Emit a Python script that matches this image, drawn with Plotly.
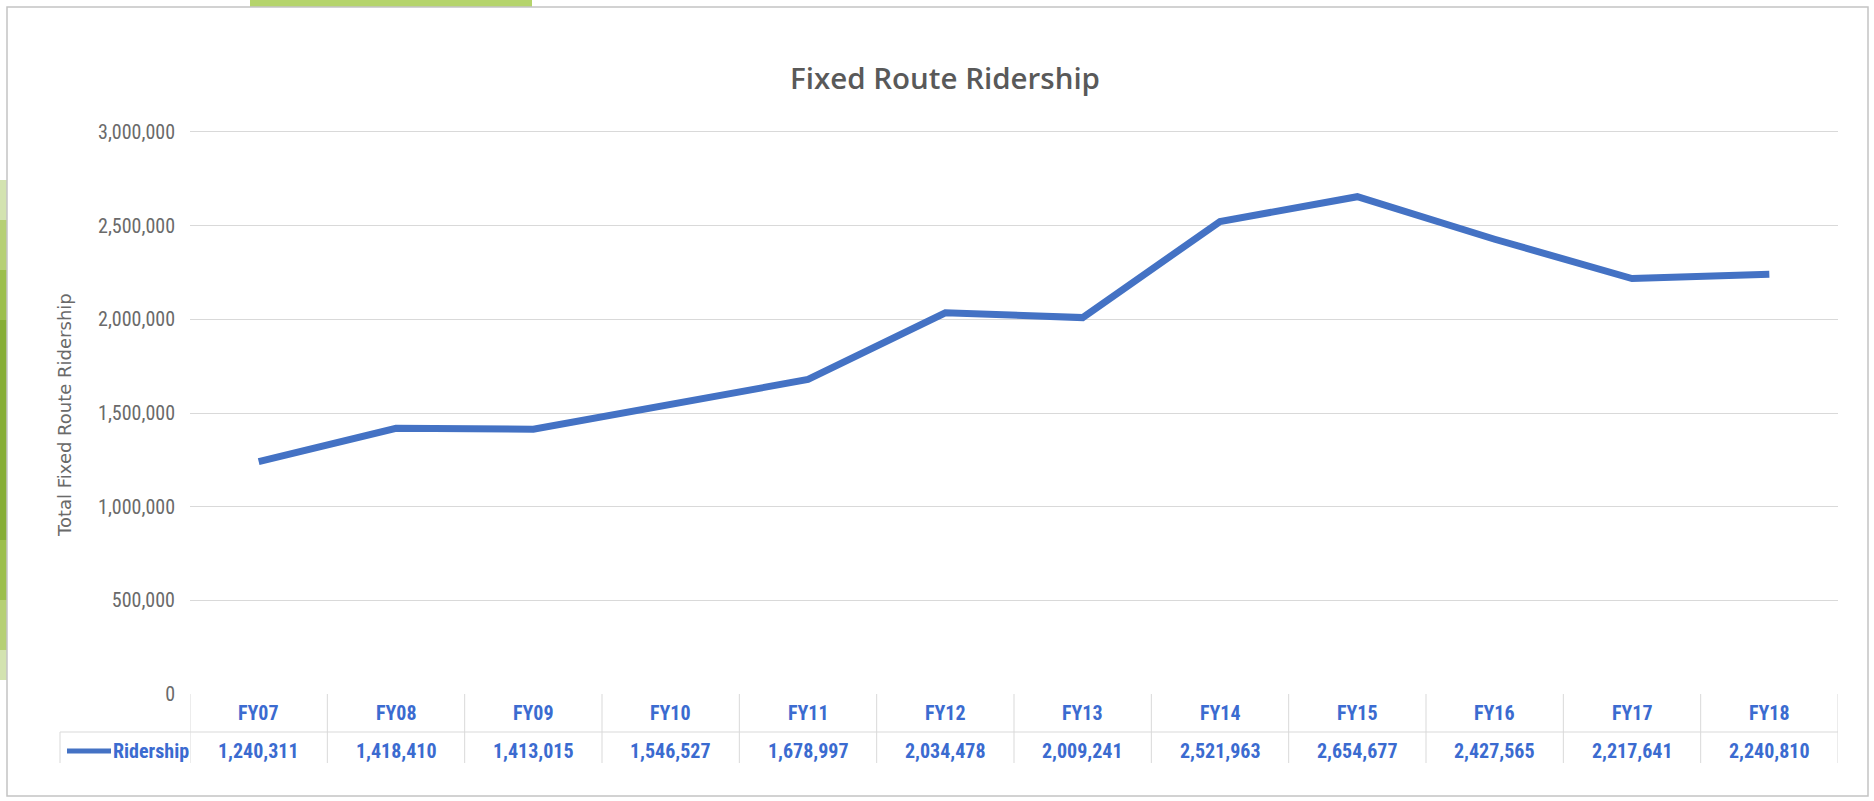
import plotly.graph_objects as go

# ---- data ----
categories = ["FY07", "FY08", "FY09", "FY10", "FY11", "FY12",
              "FY13", "FY14", "FY15", "FY16", "FY17", "FY18"]
ridership = [1240311, 1418410, 1413015, 1546527, 1678997, 2034478,
             2009241, 2521963, 2654677, 2427565, 2217641, 2240810]
series_name = "Ridership"
y_ticks = [0, 500000, 1000000, 1500000, 2000000, 2500000, 3000000]
title_text = "Fixed Route Ridership"
y_title = "Total Fixed Route Ridership"

# ---- geometry (pixels of the 1874x801 page) ----
W, H = 1874, 801
PL, PR, PT, PB = 190, 1838, 126, 694   # plot area
Y_MAX = 3032000


def px(x):
    return (x - PL) / (PR - PL)


def py(y):
    return (PB - y) / (PB - PT)


LINE_BLUE = "#4472C4"
TEXT_BLUE = "#3b6bd0"
GRID = "#d9d9d9"
GRAY_TXT = "#595959"
TICK_TXT = "#6a6a6a"
NARROW = "Liberation Sans Narrow, Arial Narrow, Roboto Condensed, sans-serif"

fig = go.Figure()
fig.add_trace(go.Scatter(
    x=categories, y=ridership, mode="lines", name=series_name,
    line=dict(color=LINE_BLUE, width=7), showlegend=False,
    hoverinfo="x+y",
))

shapes = []
annotations = []

# slide decorations behind the chart frame
shapes.append(dict(type="rect", xref="paper", yref="paper",
                   x0=px(250), x1=px(532), y0=py(9), y1=py(-10),
                   fillcolor="#b5d46c", line=dict(width=0), layer="below"))
for (y0, y1, col) in [(180, 680, "#d3e3b0"), (220, 650, "#b6d075"),
                      (270, 600, "#9cbf4c"), (320, 540, "#86ad35")]:
    shapes.append(dict(type="rect", xref="paper", yref="paper",
                       x0=px(-5), x1=px(7), y0=py(y1), y1=py(y0),
                       fillcolor=col, line=dict(width=0), layer="below"))
# chart frame
shapes.append(dict(type="rect", xref="paper", yref="paper",
                   x0=px(7), x1=px(1868), y0=py(796), y1=py(7),
                   fillcolor="white", line=dict(color="#c4c4c4", width=1.5),
                   layer="below"))

# data table grid
n = len(categories)
for i in range(n + 1):
    shapes.append(dict(type="line", xref="x", yref="paper",
                       x0=i - 0.5, x1=i - 0.5, y0=py(694), y1=py(763),
                       line=dict(color=GRID, width=1)))
shapes.append(dict(type="line", xref="paper", yref="paper",
                   x0=px(60), x1=1, y0=py(732), y1=py(732),
                   line=dict(color=GRID, width=1)))
shapes.append(dict(type="line", xref="paper", yref="paper",
                   x0=px(60), x1=px(60), y0=py(732), y1=py(763),
                   line=dict(color=GRID, width=1)))
# legend key line
shapes.append(dict(type="line", xref="paper", yref="paper",
                   x0=px(67), x1=px(111), y0=py(751), y1=py(751),
                   line=dict(color=LINE_BLUE, width=5)))

for cat, val in zip(categories, ridership):
    annotations.append(dict(x=cat, xref="x", y=py(713), yref="paper",
                            text=cat, showarrow=False,
                            font=dict(family=NARROW, size=20, color=TEXT_BLUE,
                                      weight="bold"),
                            xanchor="center", yanchor="middle"))
    annotations.append(dict(x=cat, xref="x", y=py(751), yref="paper",
                            text=f"{val:,}", showarrow=False,
                            font=dict(family=NARROW, size=20, color=TEXT_BLUE,
                                      weight="bold"),
                            xanchor="center", yanchor="middle"))
annotations.append(dict(x=px(111), xref="paper", y=py(751), yref="paper",
                        text=series_name, showarrow=False,
                        font=dict(family=NARROW, size=20, color=TEXT_BLUE,
                                  weight="bold"),
                        xanchor="left", yanchor="middle"))

# title and y-axis title
annotations.append(dict(x=px(945), xref="paper", y=py(78), yref="paper",
                        text=title_text, showarrow=False,
                        font=dict(family="Open Sans, sans-serif", size=29.5,
                                  color=GRAY_TXT, weight=600),
                        xanchor="center", yanchor="middle"))
annotations.append(dict(x=px(64), xref="paper", y=py(415), yref="paper",
                        text=y_title, showarrow=False, textangle=-90,
                        font=dict(family="DejaVu Sans, sans-serif", size=18,
                                  color=TICK_TXT),
                        xanchor="center", yanchor="middle"))

fig.update_layout(
    width=W, height=H,
    margin=dict(l=PL, r=W - PR, t=PT, b=H - PB, autoexpand=False),
    paper_bgcolor="white", plot_bgcolor="rgba(0,0,0,0)",
    shapes=shapes, annotations=annotations,
    showlegend=False,
)
fig.update_xaxes(type="category", range=[-0.5, n - 0.5],
                 showticklabels=False, showgrid=False, zeroline=False,
                 showline=False, ticks="")
fig.update_yaxes(range=[0, Y_MAX], tickvals=y_ticks, tickformat=",",
                 showgrid=True, gridcolor=GRID, gridwidth=1,
                 zeroline=False, showline=False, ticks="",
                 ticklabelstandoff=14,
                 tickfont=dict(family=NARROW, size=20, color=TICK_TXT))

fig.write_html(
    "out.html",
    config={"displayModeBar": False},
    post_script="document.body.style.margin='0';"
                "document.body.style.overflow='hidden';",
)
